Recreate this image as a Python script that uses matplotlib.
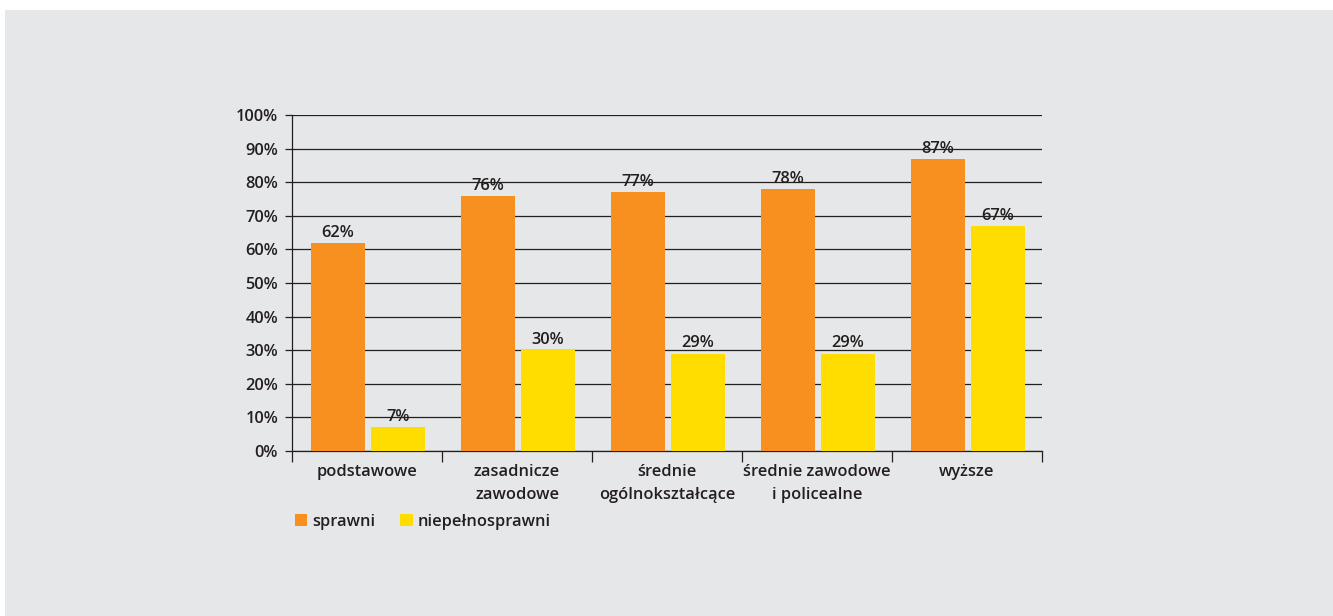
import matplotlib
matplotlib.use("Agg")
import matplotlib.pyplot as plt
from matplotlib.patches import Rectangle
import numpy as np

categories = ["podstawowe", "zasadnicze\nzawodowe", "średnie\nogólnokształcące",
              "średnie zawodowe\ni policealne", "wyższe"]
sprawni = [62, 76, 77, 78, 87]
niepelnosprawni = [7, 30, 29, 29, 67]
series_names = ["sprawni", "niepełnosprawni"]
yticks = [0, 10, 20, 30, 40, 50, 60, 70, 80, 90, 100]

ORANGE = "#f7901e"
YELLOW = "#ffdd00"
BG = "#e6e7e8"
INK = "#231f20"

plt.rcParams["font.family"] = ["Open Sans", "DejaVu Sans"]
plt.rcParams["font.weight"] = "semibold"
FS = 11.8

W, H = 1333, 616
fig = plt.figure(figsize=(W / 100, H / 100), dpi=100)
fig.patch.set_facecolor("white")
fig.add_artist(Rectangle((5 / W, 0), 1 - 5 / W, 1 - 10 / H, transform=fig.transFigure,
                         facecolor=BG, edgecolor="none", zorder=-10))

ax = fig.add_axes([292 / W, 1 - 451 / H, 750 / W, 336 / H])
ax.set_facecolor("none")

x = np.arange(len(categories)) + 0.5
bw = 0.36
b1 = ax.bar(x - 0.193, sprawni, bw, color=ORANGE, zorder=3, label=series_names[0])
b2 = ax.bar(x + 0.207, niepelnosprawni, bw, color=YELLOW, zorder=3, label=series_names[1])

for bars, vals in ((b1, sprawni), (b2, niepelnosprawni)):
    for r, v in zip(bars, vals):
        ax.annotate(f"{v}%", (r.get_x() + r.get_width() / 2, v), xytext=(0, 1.5),
                    textcoords="offset points", ha="center", va="bottom",
                    fontsize=FS, color=INK, fontweight="semibold", zorder=4)

ax.set_ylim(0, 100)
ax.set_xlim(0, len(categories))
ax.set_yticks(yticks)
ax.set_yticklabels([f"{v}%" for v in yticks], fontsize=FS, color=INK)
ax.yaxis.grid(True, color=INK, linewidth=0.9, zorder=1)
ax.set_axisbelow(True)

ax.set_xticks(np.arange(len(categories) + 1))
ax.set_xticklabels([])
ax.set_xticks(x, minor=True)
ax.set_xticklabels(categories, minor=True, fontsize=FS, color=INK, linespacing=1.6)
ax.tick_params(axis="x", which="major", length=8, width=0.9, color=INK, direction="out")
ax.tick_params(axis="x", which="minor", length=0, pad=9)
ax.tick_params(axis="y", length=5, width=0.9, color=INK, pad=5)

for s in ("top", "right"):
    ax.spines[s].set_visible(False)
for s in ("left", "bottom"):
    ax.spines[s].set_color(INK)
    ax.spines[s].set_linewidth(0.9)

leg = fig.legend(handles=[b1, b2], loc="upper left", bbox_to_anchor=(288 / W, 1 - 507 / H),
                 ncol=2, frameon=False, fontsize=FS, handlelength=0.75, handleheight=0.75,
                 handletextpad=0.3, columnspacing=1.55, borderaxespad=0)
for t in leg.get_texts():
    t.set_color(INK)

fig.savefig("out.png", dpi=100, facecolor=fig.get_facecolor())
